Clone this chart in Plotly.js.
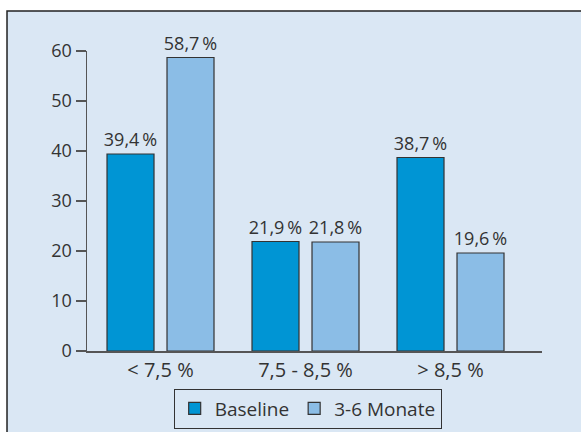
<!DOCTYPE html>
<html>
<head>
<meta charset="utf-8">
<script src="https://cdn.plot.ly/plotly-3.0.1.min.js"></script>
<style>html,body{margin:0;padding:0;background:#fff;}#chart{width:581px;height:432px;}</style>
</head>
<body>
<div id="chart"></div>
<script>
const categories = ['< 7,5 %', '7,5 - 8,5 %', '> 8,5 %'];
const seriesNames = ['Baseline', '3-6 Monate'];
const baseline = [39.4, 21.9, 38.7];
const monate = [58.7, 21.8, 19.6];
const yTicks = [0, 10, 20, 30, 40, 50, 60];
const colors = ['#0095d4', '#8bbde6'];

const fmt = v => v.toFixed(1).replace('.', ',') + '\u2009%';
const FONT = 'Open Sans, Lato, sans-serif';

const traces = [baseline, monate].map((vals, i) => ({
  type: 'bar',
  name: seriesNames[i],
  x: categories,
  y: vals,
  text: vals.map(fmt),
  textposition: 'outside',
  constraintext: 'none',
  textfont: {family: FONT, size: 18, color: '#333'},
  cliponaxis: false,
  marker: {color: colors[i], line: {color: '#333', width: 1.2}},
  hoverinfo: 'none'
}));

const layout = {
  width: 581, height: 432,
  margin: {l: 87, r: 39, t: 51, b: 81, autoexpand: false},
  paper_bgcolor: '#ffffff',
  plot_bgcolor: 'rgba(0,0,0,0)',
  barmode: 'group',
  bargap: 0.1724,
  bargroupgap: 0.2167,
  font: {family: FONT, color: '#333'},
  showlegend: true,
  legend: {
    orientation: 'h', x: 0.485, xanchor: 'center', y: -0.125, yanchor: 'top',
    bordercolor: '#333', borderwidth: 1, bgcolor: 'rgba(0,0,0,0)',
    font: {family: FONT, size: 19, color: '#333'},
    itemwidth: 30
  },
  xaxis: {
    range: [-0.507, 2.631], automargin: false,
    showline: true, linecolor: '#555', linewidth: 1.5,
    ticks: '', showgrid: false, zeroline: false,
    tickfont: {family: FONT, size: 20, color: '#333'}
  },
  yaxis: {
    range: [0, 60], automargin: false,
    tickvals: yTicks,
    showline: true, linecolor: '#555', linewidth: 1.5,
    ticks: 'outside', ticklen: 10, tickcolor: '#555', tickwidth: 1.5,
    showgrid: false, zeroline: false,
    tickfont: {family: FONT, size: 18, color: '#333'}
  },
  shapes: [{
    type: 'rect', layer: 'below', xref: 'paper', yref: 'paper',
    x0: -0.1758, x1: 1.2, y0: -0.4, y1: 1.1333,
    fillcolor: '#dae7f4', line: {color: '#222', width: 1.5}
  }]
};

Plotly.newPlot('chart', traces, layout, {staticPlot: true});
</script>
</body>
</html>
